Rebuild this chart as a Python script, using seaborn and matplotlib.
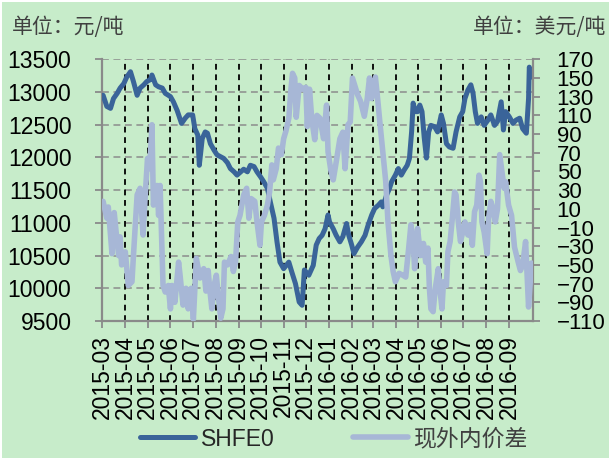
import matplotlib
matplotlib.use("Agg")
import matplotlib.pyplot as plt
import matplotlib.dates as mdates
from matplotlib.lines import Line2D
from matplotlib.patches import Rectangle
import seaborn as sns
import pandas as pd

# SHFE0 copper price (yuan / tonne), left axis
shfe_dates = [
    "2015-03-02", "2015-03-07", "2015-03-12", "2015-03-16", "2015-03-21", "2015-03-25",
    "2015-03-30", "2015-04-03", "2015-04-08", "2015-04-12", "2015-04-17", "2015-04-21",
    "2015-04-26", "2015-04-30", "2015-05-05", "2015-05-07", "2015-05-12", "2015-05-16",
    "2015-05-21", "2015-05-25", "2015-06-01", "2015-06-05", "2015-06-10", "2015-06-16",
    "2015-06-21", "2015-06-25", "2015-07-01", "2015-07-04", "2015-07-08", "2015-07-10",
    "2015-07-14", "2015-07-18", "2015-07-21", "2015-07-25", "2015-07-30", "2015-08-03",
    "2015-08-08", "2015-08-12", "2015-08-17", "2015-08-21", "2015-08-26", "2015-08-30",
    "2015-09-04", "2015-09-08", "2015-09-13", "2015-09-17", "2015-09-22", "2015-09-26",
    "2015-10-01", "2015-10-05", "2015-10-10", "2015-10-14", "2015-10-19", "2015-10-23",
    "2015-10-27", "2015-11-01", "2015-11-08", "2015-11-12", "2015-11-17", "2015-11-22",
    "2015-11-26", "2015-11-29", "2015-12-05", "2015-12-11", "2015-12-15", "2015-12-19",
    "2015-12-23", "2015-12-27", "2015-12-31", "2016-01-02", "2016-01-07", "2016-01-11",
    "2016-01-16", "2016-01-20", "2016-01-25", "2016-01-28", "2016-02-01", "2016-02-04",
    "2016-02-09", "2016-02-14", "2016-02-19", "2016-02-23", "2016-02-28", "2016-03-03",
    "2016-03-08", "2016-03-12", "2016-03-14", "2016-03-19", "2016-03-23", "2016-03-26",
    "2016-03-31", "2016-04-04", "2016-04-08", "2016-04-12", "2016-04-16", "2016-04-19",
    "2016-04-22", "2016-04-24", "2016-04-27", "2016-04-30", "2016-05-03", "2016-05-06",
    "2016-05-09", "2016-05-12", "2016-05-15", "2016-05-18", "2016-05-23", "2016-05-27",
    "2016-06-01", "2016-06-04", "2016-06-08", "2016-06-12", "2016-06-17", "2016-06-21",
    "2016-06-26", "2016-06-30", "2016-07-03", "2016-07-07", "2016-07-11", "2016-07-14",
    "2016-07-17", "2016-07-20", "2016-07-25", "2016-07-29", "2016-08-03", "2016-08-07",
    "2016-08-12", "2016-08-16", "2016-08-21", "2016-08-24", "2016-08-27", "2016-09-01",
    "2016-09-06", "2016-09-10", "2016-09-15", "2016-09-19", "2016-09-24", "2016-09-27",
    "2016-09-28", "2016-09-30", "2016-10-02",
]
shfe_values = [
    12950, 12780, 12750, 12900, 12980, 13060,
    13130, 13230, 13310, 13160, 12950, 13060,
    13110, 13160, 13190, 13260, 13110, 13080,
    13060, 12980, 12930, 12850, 12720, 12520,
    12600, 12650, 12650, 12440, 12340, 11880,
    12290, 12390, 12370, 12210, 12110, 12040,
    12010, 11985, 11920, 11830, 11780, 11730,
    11780, 11820, 11780, 11880, 11860, 11780,
    11700, 11630, 11530, 11320, 11070, 10710,
    10400, 10300, 10400, 10250, 10070, 9790,
    9740, 10280, 10200, 10350, 10660, 10760,
    10810, 10910, 11120, 11015, 10910, 10810,
    10710, 10790, 10990, 10810, 10660, 10530,
    10630, 10710, 10810, 10960, 11120, 11220,
    11270, 11320, 11245, 11420, 11525, 11630,
    11730, 11830, 11730, 11810, 11880, 11985,
    12400, 12830, 12700, 12700, 12800, 12700,
    12300, 11990, 12390, 12490, 12470, 12390,
    12650, 12520, 12210, 12160, 12140, 12390,
    12620, 12700, 12900, 13030, 13110, 12980,
    12700, 12520, 12620, 12490, 12570, 12650,
    12490, 12550, 12850, 12420, 12700, 12620,
    12520, 12570, 12600, 12440, 12370, 12900,
    13380, 13290, 13230,
]

# spot import spread (USD / tonne), right axis
spread_dates = [
    "2015-03-02", "2015-03-07", "2015-03-09", "2015-03-14", "2015-03-17", "2015-03-20",
    "2015-03-23", "2015-03-25", "2015-03-27", "2015-04-01", "2015-04-05", "2015-04-10",
    "2015-04-12", "2015-04-17", "2015-04-21", "2015-04-25", "2015-04-28", "2015-05-01",
    "2015-05-04", "2015-05-07", "2015-05-09", "2015-05-14", "2015-05-16", "2015-05-18",
    "2015-05-22", "2015-05-25", "2015-05-29", "2015-06-01", "2015-06-03", "2015-06-07",
    "2015-06-12", "2015-06-14", "2015-06-18", "2015-06-22", "2015-06-25", "2015-06-29",
    "2015-07-02", "2015-07-06", "2015-07-11", "2015-07-16", "2015-07-19", "2015-07-22",
    "2015-07-24", "2015-07-27", "2015-07-30", "2015-08-02", "2015-08-05", "2015-08-08",
    "2015-08-11", "2015-08-13", "2015-08-17", "2015-08-22", "2015-08-25", "2015-08-28",
    "2015-08-31", "2015-09-03", "2015-09-08", "2015-09-12", "2015-09-15", "2015-09-18",
    "2015-09-23", "2015-09-26", "2015-09-30", "2015-10-02", "2015-10-06", "2015-10-10",
    "2015-10-13", "2015-10-16", "2015-10-18", "2015-10-22", "2015-10-25", "2015-10-29",
    "2015-11-01", "2015-11-04", "2015-11-08", "2015-11-11", "2015-11-13", "2015-11-16",
    "2015-11-18", "2015-11-22", "2015-11-27", "2015-12-01", "2015-12-03", "2015-12-06",
    "2015-12-09", "2015-12-13", "2015-12-16", "2015-12-20", "2015-12-25", "2015-12-29",
    "2015-12-31", "2016-01-04", "2016-01-07", "2016-01-11", "2016-01-16", "2016-01-20",
    "2016-01-23", "2016-01-27", "2016-01-30", "2016-02-02", "2016-02-09", "2016-02-13",
    "2016-02-18", "2016-02-22", "2016-02-25", "2016-02-28", "2016-03-04", "2016-03-07",
    "2016-03-10", "2016-03-14", "2016-03-18", "2016-03-21", "2016-03-25", "2016-03-28",
    "2016-03-31", "2016-04-05", "2016-04-10", "2016-04-14", "2016-04-18", "2016-04-21",
    "2016-04-24", "2016-04-26", "2016-04-30", "2016-05-04", "2016-05-08", "2016-05-11",
    "2016-05-14", "2016-05-16", "2016-05-18", "2016-05-21", "2016-05-24", "2016-05-28",
    "2016-05-31", "2016-06-02", "2016-06-04", "2016-06-08", "2016-06-10", "2016-06-13",
    "2016-06-16", "2016-06-19", "2016-06-21", "2016-06-24", "2016-06-27", "2016-06-30",
    "2016-07-03", "2016-07-07", "2016-07-10", "2016-07-13", "2016-07-16", "2016-07-19",
    "2016-07-22", "2016-07-24", "2016-07-26", "2016-07-29", "2016-08-02", "2016-08-04",
    "2016-08-07", "2016-08-10", "2016-08-13", "2016-08-16", "2016-08-19", "2016-08-22",
    "2016-08-25", "2016-08-27", "2016-08-31", "2016-09-04", "2016-09-08", "2016-09-13",
    "2016-09-16", "2016-09-19", "2016-09-23", "2016-09-27", "2016-10-01",
]
spread_values = [
    18, 0, 12, -38, 6, -18,
    -40, -20, -50, -36, -72, -68,
    -40, 25, 32, -18, 25, 64,
    53, 100, 14, 35, 3, 35,
    -72, -79, -72, -97, -72, -90,
    -47, -61, -93, -75, -97, -75,
    -108, -43, -64, -54, -78, -56,
    -75, -97, -72, -61, -86, -107,
    -97, -47, -50, -41, -57, -47,
    -4, 3, 25, 32, 0, 21,
    18, -4, -29, -4, 3, 14,
    28, 57, 41, 53, 75, 68,
    85, 93, 107, 139, 155, 150,
    108, 142, 138, 140, 98, 138,
    106, 84, 110, 107, 85, 121,
    71, 50, 41, 60, 85, 92,
    53, 100, 103, 150, 132, 125,
    109, 128, 150, 128, 151, 128,
    103, 71, 39, -4, -40, -57,
    -68, -59, -61, -63, -32, -7,
    -25, -54, -11, -40, -27, -47,
    -32, -75, -97, -100, -75, -54,
    -82, -97, -68, -72, -36, -25,
    0, 28, 25, -4, -25, -15,
    -4, -18, -7, -29, 7, 14,
    46, 39, -4, -15, -38, 0,
    18, 10, -4, 10, 68, 50,
    32, 39, 14, 3, -31, -47,
    -56, -50, -25, -95, -48,
]

month_ticks = pd.date_range("2015-03-01", "2016-09-01", freq="MS")
left_ticks = list(range(9500, 13501, 500))
right_ticks = list(range(-110, 171, 20))

BG = "#c7ecca"
DARK = "#3a6499"
LIGHT = "#a7b7d6"
AXIS_GREY = "#8a8a8a"

sns.set_theme(style="white")
plt.rcParams["font.family"] = ["Liberation Sans", "Noto Sans CJK SC", "DejaVu Sans"]

shfe = pd.DataFrame({"date": pd.to_datetime(shfe_dates), "value": shfe_values})
spread = pd.DataFrame({"date": pd.to_datetime(spread_dates), "value": spread_values})

W, H = 609, 458
fig = plt.figure(figsize=(W / 100, H / 100), dpi=100)
fig.patch.set_facecolor("white")
fig.patches.append(Rectangle((2 / W, 0), 1, 1 - 2 / H, transform=fig.transFigure,
                             facecolor=BG, edgecolor="none", zorder=-10))

ax = fig.add_axes([102 / W, 1 - 321 / H, 431 / W, (321 - 59.3) / H])
ax.set_facecolor("none")
ax2 = ax.twinx()

# month separators and horizontal grid
for t in month_ticks[1:]:
    ax.axvline(t, color="black", lw=1.3, ls=(0, (3.2, 2.6)), zorder=1)
ax.set_yticks(left_ticks)
ax.yaxis.grid(True, color="#8c8c8c", lw=1.1, ls=(0, (4.5, 3)), zorder=0.5)
ax.xaxis.grid(False)

sns.lineplot(data=shfe, x="date", y="value", ax=ax, color=DARK, lw=3.6,
             legend=False, zorder=3, solid_joinstyle="round", solid_capstyle="round")
sns.lineplot(data=spread, x="date", y="value", ax=ax2, color=LIGHT, lw=4.0,
             legend=False, zorder=3, solid_joinstyle="round", solid_capstyle="round")

ax.set_xlim(pd.Timestamp("2015-02-28 12:00"), pd.Timestamp("2016-10-03"))
ax.set_ylim(9500, 13500)
ax2.set_ylim(-110, 170)
ax2.set_yticks(right_ticks)
ax2.grid(False)

ax.set_xticks(month_ticks)
ax.xaxis.set_major_formatter(mdates.DateFormatter("%Y-%m"))
for lab in ax.get_xticklabels():
    lab.set_rotation(90)

ax.set_xlabel("")
ax.set_ylabel("")
ax2.set_ylabel("")

for a in (ax, ax2):
    for side in ("top", "left", "right", "bottom"):
        a.spines[side].set_visible(False)
ax.spines["left"].set_visible(True)
ax.spines["bottom"].set_visible(True)
ax2.spines["right"].set_visible(True)
for sp in (ax.spines["left"], ax.spines["bottom"], ax2.spines["right"]):
    sp.set_color(AXIS_GREY)
    sp.set_linewidth(1.6)

ax.tick_params(axis="y", which="major", left=True, direction="out", length=5,
               width=1.3, color=AXIS_GREY, labelsize=16.5, pad=17, labelcolor="black")
ax.tick_params(axis="x", which="major", bottom=True, direction="out", length=5,
               width=1.3, color=AXIS_GREY, labelsize=16.5, pad=5, labelcolor="black")
ax2.tick_params(axis="y", which="major", right=True, direction="out", length=5,
                width=1.3, color=AXIS_GREY, labelsize=16, pad=12, labelcolor="black")

fig.text(12 / W, 1 - 27 / H, "单位：元/吨", fontsize=15, color="#404040",
         va="center", ha="left", family=["Noto Sans CJK SC"])
fig.text(606 / W, 1 - 27 / H, "单位：美元/吨", fontsize=15, color="#404040",
         va="center", ha="right", family=["Noto Sans CJK SC"])

handles = [Line2D([], [], color=DARK, lw=3.6, solid_capstyle="round"),
           Line2D([], [], color=LIGHT, lw=4.0, solid_capstyle="round")]
leg = fig.legend(handles, ["SHFE0", "现外内价差"], loc="center",
                 bbox_to_anchor=(334 / W, 1 - 439 / H), ncol=2, frameon=False,
                 fontsize=16.5, handlelength=2.4, handletextpad=0.25,
                 columnspacing=3.4, borderpad=0, borderaxespad=0)
leg.get_texts()[1].set_color("#404040")

fig.savefig("out.png", dpi=100, facecolor=fig.get_facecolor())
